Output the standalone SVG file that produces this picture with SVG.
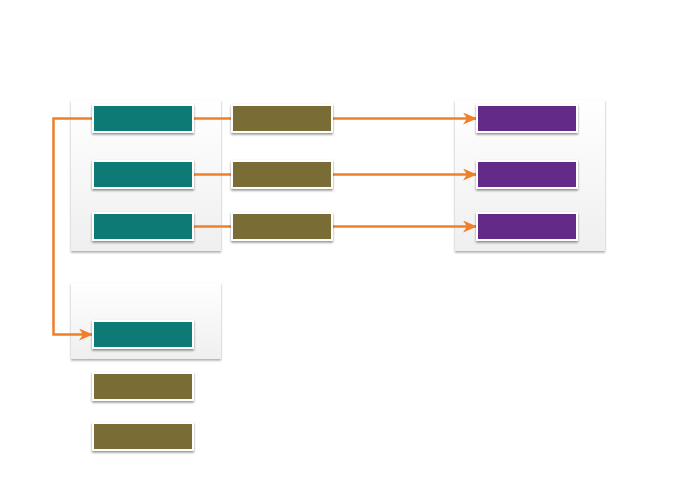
<svg xmlns="http://www.w3.org/2000/svg" width="680" height="490" viewBox="0 0 680 490">
<defs>
<linearGradient id="cg" x1="0" y1="0" x2="0" y2="1">
<stop offset="0" stop-color="#ffffff"/>
<stop offset="1" stop-color="#efefef"/>
</linearGradient>
<filter id="cs" x="-10%" y="-10%" width="120%" height="125%">
<feDropShadow dx="0" dy="1.5" stdDeviation="1.2" flood-color="#000" flood-opacity="0.35"/>
</filter>
<filter id="bs" x="-10%" y="-20%" width="120%" height="150%">
<feDropShadow dx="0" dy="1.5" stdDeviation="1" flood-color="#000" flood-opacity="0.45"/>
</filter>
<marker id="ah" markerUnits="userSpaceOnUse" markerWidth="16" markerHeight="14" refX="14" refY="6" orient="auto" viewBox="0 0 16 14">
<path d="M0,0 L14,6 L0,12 L4,6 z" fill="#f07f2a"/>
</marker>
<style>
.cont{fill:url(#cg);filter:url(#cs);}
.box{stroke:#ffffff;stroke-width:2;filter:url(#bs);}
.teal{fill:#087a74;}
.olive{fill:#7a6c36;}
.purple{fill:#642b88;}
.conn{fill:none;stroke:#f07f2a;stroke-width:2.5;}
</style>
</defs>
<rect width="680" height="490" fill="#ffffff"/>
<g id="containers">
<rect id="container1" class="cont" x="71" y="100" width="150" height="151"/>
<rect id="container2" class="cont" x="71" y="283" width="150" height="76"/>
<rect id="container3" class="cont" x="455" y="100" width="150" height="151"/>
</g>
<g id="connectors">
<line class="conn" x1="193" y1="118.5" x2="477" y2="118.5" marker-end="url(#ah)"/>
<line class="conn" x1="193" y1="174.5" x2="477" y2="174.5" marker-end="url(#ah)"/>
<line class="conn" x1="193" y1="226.5" x2="477" y2="226.5" marker-end="url(#ah)"/>
<path class="conn" d="M93,118.5 L53.5,118.5 L53.5,334.5 L93,334.5" marker-end="url(#ah)"/>
</g>
<g id="teal1"><rect class="box teal" x="93" y="105" width="100" height="27"/></g>
<g id="teal2"><rect class="box teal" x="93" y="161" width="100" height="27"/></g>
<g id="teal3"><rect class="box teal" x="93" y="213" width="100" height="27"/></g>
<g id="teal4"><rect class="box teal" x="93" y="321" width="100" height="27"/></g>
<g id="olive1"><rect class="box olive" x="232" y="105" width="100" height="27"/></g>
<g id="olive2"><rect class="box olive" x="232" y="161" width="100" height="27"/></g>
<g id="olive3"><rect class="box olive" x="232" y="213" width="100" height="27"/></g>
<g id="olive4"><rect class="box olive" x="93" y="373" width="100" height="27"/></g>
<g id="olive5"><rect class="box olive" x="93" y="423" width="100" height="27"/></g>
<g id="purple1"><rect class="box purple" x="477" y="105" width="100" height="27"/></g>
<g id="purple2"><rect class="box purple" x="477" y="161" width="100" height="27"/></g>
<g id="purple3"><rect class="box purple" x="477" y="213" width="100" height="27"/></g>
</svg>
